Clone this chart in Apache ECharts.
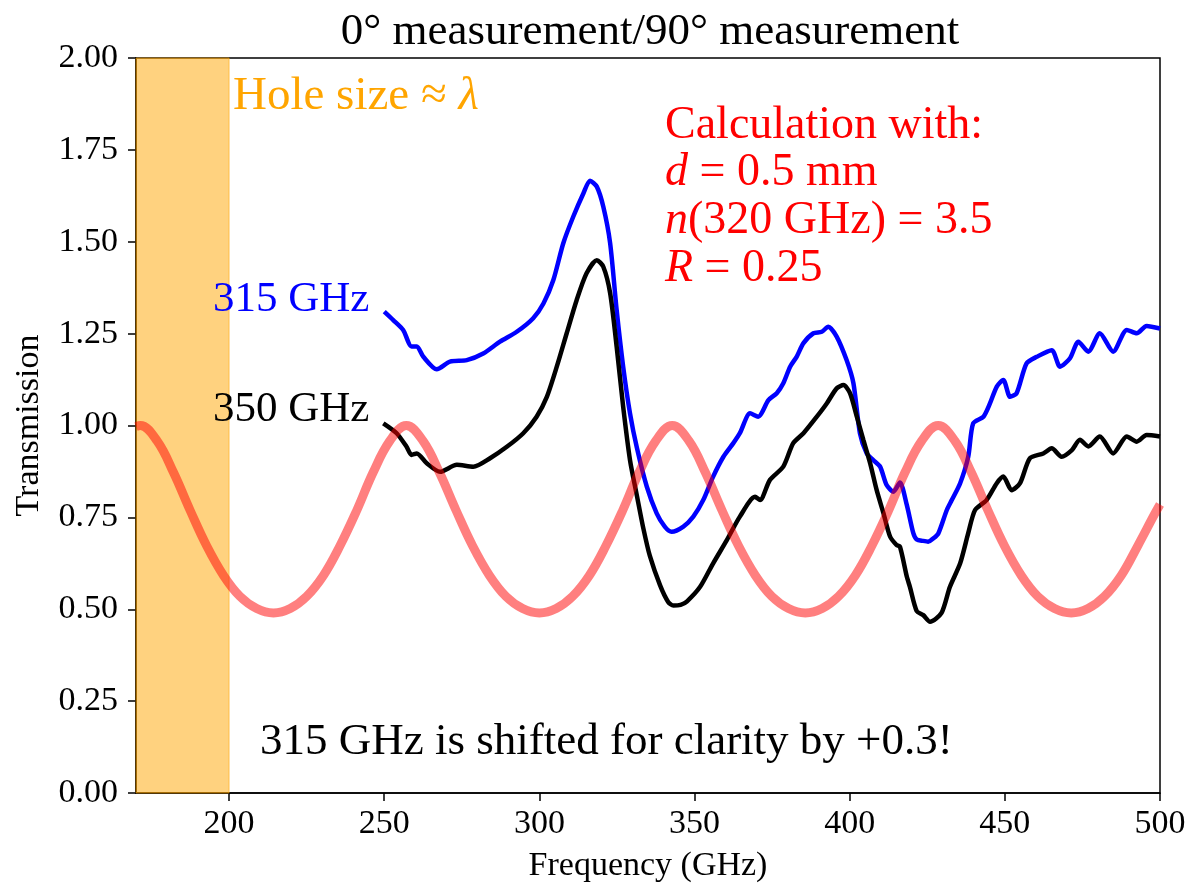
<!DOCTYPE html>
<html>
<head>
<meta charset="utf-8">
<script src="https://cdn.jsdelivr.net/npm/echarts@6/dist/echarts.min.js"></script>
<style>
html,body{margin:0;padding:0;background:#fff;}
#chart{width:1193px;height:888px;}
</style>
</head>
<body>
<div id="chart"></div>
<script>
// ---- data ----
const xTicks = [200, 250, 300, 350, 400, 450, 500];

const freq315 = [250.0,252.9,256.1,258.8,260.5,262.6,266.9,271.2,276.6,281.9,287.3,292.7,298.0,301.3,304.5,307.7,310.9,314.2,316.3,318.5,320.6,322.8,324.9,327.0,329.2,331.4,334.6,337.8,340.4,342.6,346.4,349.6,352.8,356.0,359.3,362.5,364.6,367.9,370.5,373.8,376.5,378.6,380.8,382.9,385.1,388.3,391.0,393.1,395.8,399.0,401.2,403.3,405.5,407.6,409.8,411.9,414.1,416.2,418.4,420.5,421.6,423.7,425.3,427.0,428.6,431.3,432.9,435.6,438.2,439.8,443.1,445.2,447.4,449.5,451.7,453.8,457.0,460.3,465.1,467.8,471.0,473.7,476.9,480.6,484.9,489.3,492.5,495.7,500.0];
const trans315 = [1.310,1.287,1.260,1.215,1.215,1.187,1.153,1.174,1.178,1.196,1.228,1.255,1.292,1.332,1.396,1.496,1.568,1.632,1.666,1.650,1.595,1.496,1.314,1.160,1.033,0.940,0.834,0.761,0.725,0.711,0.725,0.752,0.797,0.861,0.915,0.952,0.979,1.033,1.024,1.069,1.088,1.115,1.160,1.187,1.224,1.251,1.255,1.269,1.242,1.178,1.115,0.979,0.924,0.906,0.888,0.838,0.820,0.845,0.784,0.707,0.690,0.686,0.684,0.693,0.707,0.770,0.797,0.843,0.915,1.006,1.024,1.060,1.106,1.124,1.078,1.088,1.169,1.187,1.205,1.160,1.183,1.228,1.201,1.251,1.201,1.260,1.251,1.271,1.264];

const freq350 = [249.7,254.0,257.2,258.8,260.5,263.7,268.0,273.4,278.7,284.1,289.5,294.8,299.1,302.4,305.6,308.8,312.0,315.2,318.5,320.6,322.8,324.9,327.0,329.2,331.4,333.5,335.6,338.9,341.5,343.2,345.5,347.5,351.8,356.0,360.4,364.6,369.5,371.1,374.3,378.6,381.8,385.1,389.4,392.6,395.8,398.0,400.1,402.3,404.4,406.6,408.7,410.9,413.0,415.1,416.2,418.4,419.4,421.6,423.7,425.9,429.6,432.3,435.6,438.2,440.4,444.1,447.4,449.5,452.2,454.9,458.1,462.4,465.1,468.3,471.6,474.2,476.9,480.6,484.9,489.3,492.5,495.7,500.0];
const trans350 = [1.006,0.979,0.942,0.920,0.924,0.897,0.874,0.893,0.888,0.911,0.942,0.979,1.024,1.078,1.160,1.251,1.341,1.414,1.450,1.432,1.360,1.214,1.051,0.906,0.810,0.720,0.645,0.565,0.520,0.510,0.512,0.521,0.561,0.625,0.688,0.752,0.806,0.797,0.852,0.888,0.952,0.979,1.024,1.060,1.101,1.110,1.088,1.024,0.961,0.897,0.824,0.761,0.698,0.675,0.670,0.589,0.561,0.495,0.484,0.466,0.490,0.561,0.625,0.707,0.770,0.797,0.843,0.861,0.824,0.843,0.911,0.924,0.938,0.915,0.933,0.961,0.943,0.970,0.924,0.970,0.956,0.974,0.970];

const freqCalc = [170.0,171.4,176.8,182.1,187.5,192.8,198.2,203.5,208.9,214.3,219.7,225.0,230.4,235.7,241.1,246.4,251.8,257.1,262.5,267.8,273.2,278.5,283.9,289.2,294.6,300.0,305.4,310.7,316.1,321.4,326.8,332.1,337.5,342.8,348.2,353.5,358.9,364.2,369.6,374.9,380.3,385.7,391.1,396.4,401.8,407.1,412.5,417.8,423.2,428.5,433.9,439.2,444.6,449.9,455.3,460.6,466.0,471.4,476.8,482.1,487.5,492.8,498.2,500.0];
const transCalc = [0.997,1.000,0.958,0.872,0.768,0.672,0.592,0.535,0.502,0.490,0.502,0.535,0.592,0.672,0.768,0.872,0.958,1.000,0.958,0.872,0.768,0.672,0.592,0.535,0.502,0.490,0.502,0.535,0.592,0.672,0.768,0.872,0.958,1.000,0.958,0.872,0.768,0.672,0.592,0.535,0.502,0.490,0.502,0.535,0.592,0.672,0.768,0.872,0.958,1.000,0.958,0.872,0.768,0.672,0.592,0.535,0.502,0.490,0.502,0.535,0.592,0.672,0.758,0.785];

const holeBand = [170, 200];

// ---- chart ----
const FONT = '"Liberation Serif", "DejaVu Serif", serif';
const pair = (xs, ys) => xs.map((x, i) => [x, ys[i]]);
const richRed = {
  n: {fontFamily: FONT, fontSize: 46, fill: '#ff0000'},
  i: {fontFamily: FONT, fontSize: 46, fontStyle: 'italic', fill: '#ff0000'}
};

const chart = echarts.init(document.getElementById('chart'), null, {renderer: 'canvas'});
chart.setOption({
  animation: false,
  backgroundColor: '#fff',
  title: {
    text: '0° measurement/90° measurement',
    left: 645, top: 5, textAlign: 'center',
    textStyle: {fontFamily: FONT, fontSize: 45, fontWeight: 'normal', color: '#000'}
  },
  grid: {left: 136, right: 33, top: 58, bottom: 95, show: true, borderColor: '#000', borderWidth: 1.5, backgroundColor: 'transparent'},
  xAxis: {
    type: 'value', min: 170, max: 500,
    name: 'Frequency (GHz)', nameLocation: 'middle', nameGap: 56,
    nameTextStyle: {fontFamily: FONT, fontSize: 34, color: '#000'},
    axisLine: {show: true, lineStyle: {color: '#000', width: 1.5}},
    axisTick: {show: true, customValues: xTicks, length: 8, lineStyle: {color: '#000', width: 1.5}},
    axisLabel: {customValues: xTicks, color: '#000', fontFamily: FONT, fontSize: 34, margin: 14},
    splitLine: {show: false}
  },
  yAxis: {
    type: 'value', min: 0, max: 2, interval: 0.25,
    name: 'Transmission', nameLocation: 'middle', nameGap: 90, nameRotate: 90,
    nameTextStyle: {fontFamily: FONT, fontSize: 34, color: '#000'},
    axisLine: {show: true, lineStyle: {color: '#000', width: 1.5}},
    axisTick: {show: true, length: 8, lineStyle: {color: '#000', width: 1.5}},
    axisLabel: {color: '#000', fontFamily: FONT, fontSize: 34, margin: 18, formatter: v => v.toFixed(2)},
    splitLine: {show: false}
  },
  series: [
    {
      name: 'Hole size', type: 'line', data: [], z: 1,
      markArea: {
        silent: true,
        itemStyle: {color: 'rgba(255,165,0,0.5)', borderColor: 'rgba(255,165,0,0.55)', borderWidth: 1},
        data: [[{xAxis: holeBand[0], yAxis: 0}, {xAxis: holeBand[1], yAxis: 2}]]
      }
    },
    {
      name: '315 GHz', type: 'line', data: pair(freq315, trans315), z: 2,
      showSymbol: false, symbol: 'none', smooth: 0.25,
      lineStyle: {color: '#0000ff', width: 4.5}
    },
    {
      name: '350 GHz', type: 'line', data: pair(freq350, trans350), z: 2,
      showSymbol: false, symbol: 'none', smooth: 0.25,
      lineStyle: {color: '#000000', width: 4.5}
    },
    {
      name: 'Calculation', type: 'line', data: pair(freqCalc, transCalc), z: 3,
      showSymbol: false, symbol: 'none', smooth: 0.4,
      lineStyle: {color: 'rgba(255,0,0,0.5)', width: 9}
    }
  ],
  graphic: [
    {type: 'text', x: 233, y: 97, z: 10, style: {
      text: '{n|Hole size ≈ }{i|λ}', verticalAlign: 'middle', align: 'left',
      rich: {n: {fontFamily: FONT, fontSize: 47, fill: '#FFA500'}, i: {fontFamily: FONT, fontSize: 47, fontStyle: 'italic', fill: '#FFA500'}}
    }},
    {type: 'text', x: 665, y: 126, z: 10, style: {
      text: 'Calculation with:', verticalAlign: 'middle', align: 'left',
      fontFamily: FONT, fontSize: 46, fill: '#ff0000'
    }},
    {type: 'text', x: 665, y: 173, z: 10, style: {
      text: '{i|d}{n| = 0.5 mm}', verticalAlign: 'middle', align: 'left', rich: richRed
    }},
    {type: 'text', x: 665, y: 221, z: 10, style: {
      text: '{i|n}{n|(320 GHz) = 3.5}', verticalAlign: 'middle', align: 'left', rich: richRed
    }},
    {type: 'text', x: 665, y: 269, z: 10, style: {
      text: '{i|R}{n| = 0.25}', verticalAlign: 'middle', align: 'left', rich: richRed
    }},
    {type: 'text', x: 213, y: 300, z: 10, style: {
      text: '315 GHz', verticalAlign: 'middle', align: 'left',
      fontFamily: FONT, fontSize: 43, fill: '#0000ff'
    }},
    {type: 'text', x: 213, y: 410, z: 10, style: {
      text: '350 GHz', verticalAlign: 'middle', align: 'left',
      fontFamily: FONT, fontSize: 43, fill: '#000000'
    }},
    {type: 'text', x: 260, y: 742, z: 10, style: {
      text: '315 GHz is shifted for clarity by +0.3!', verticalAlign: 'middle', align: 'left',
      fontFamily: FONT, fontSize: 45, fill: '#000000'
    }}
  ]
});
</script>
</body>
</html>
